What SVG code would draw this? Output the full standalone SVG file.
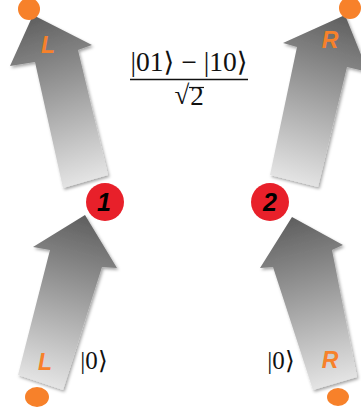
<svg xmlns="http://www.w3.org/2000/svg" width="361" height="415" viewBox="0 0 361 415">
<style>
.arrow{stroke:none;filter:url(#sh)}
.dot{fill:#f7812a}
.lbl{font-family:"Liberation Sans",Arial,sans-serif;font-weight:bold;font-style:italic;font-size:23px;fill:#f7812a;text-anchor:middle}
.node{fill:#e8202a}
.num{font-family:"Liberation Sans",Arial,sans-serif;font-weight:bold;font-style:italic;font-size:25px;fill:#000;text-anchor:middle}
.math{font-family:"Liberation Serif","Times New Roman",serif;font-size:27px;fill:#111;text-anchor:middle}
.ket{font-family:"Liberation Serif","Times New Roman",serif;font-size:25px;fill:#111;text-anchor:middle}
.br{font-family:"DejaVu Serif","DejaVu Sans",serif}
</style>
<defs>
<filter id="sh" x="-20%" y="-20%" width="140%" height="140%">
<feDropShadow dx="1.5" dy="2" stdDeviation="1.8" flood-color="#000" flood-opacity="0.35"/>
</filter>
<linearGradient id="g1" gradientUnits="userSpaceOnUse" x1="33" y1="15" x2="85" y2="182">
<stop offset="0" stop-color="#5e5e5e"/><stop offset="1" stop-color="#e4e4e4"/>
</linearGradient>
<linearGradient id="g2" gradientUnits="userSpaceOnUse" x1="345" y1="15" x2="294" y2="182">
<stop offset="0" stop-color="#5e5e5e"/><stop offset="1" stop-color="#e4e4e4"/>
</linearGradient>
<linearGradient id="g3" gradientUnits="userSpaceOnUse" x1="85" y1="215" x2="40" y2="383">
<stop offset="0" stop-color="#5e5e5e"/><stop offset="1" stop-color="#e4e4e4"/>
</linearGradient>
<linearGradient id="g4" gradientUnits="userSpaceOnUse" x1="292" y1="217" x2="335" y2="384">
<stop offset="0" stop-color="#5e5e5e"/><stop offset="1" stop-color="#e4e4e4"/>
</linearGradient>
</defs>

<g id="arrow-upper-left">
<polygon class="arrow" fill="url(#g1)" points="33,15 92,45 78,50 108,175 63,188 35,62 10,66"/>
<circle class="dot" cx="29" cy="9" r="11"/>
<text class="lbl" x="48" y="53">L</text>
</g>

<g id="arrow-upper-right">
<polygon class="arrow" fill="url(#g2)" points="345,15 368,72 347,67 318,187 270,175 297,47 283,43"/>
<circle class="dot" cx="350" cy="8" r="11"/>
<text class="lbl" x="330" y="48">R</text>
</g>

<g id="arrow-lower-left">
<polygon class="arrow" fill="url(#g3)" points="85,215 117,268 102,267 63,390 18,375 50,250 33,247"/>
<ellipse class="dot" cx="37" cy="397" rx="12" ry="10"/>
<text class="lbl" x="45" y="370">L</text>
<text class="ket" x="94" y="369">|0<tspan class="br">⟩</tspan></text>
</g>

<g id="arrow-lower-right">
<polygon class="arrow" fill="url(#g4)" points="292,217 343,245 332,250 357,377 313,390 273,267 260,268"/>
<ellipse class="dot" cx="338" cy="397" rx="11" ry="9"/>
<text class="lbl" x="330" y="368">R</text>
<text class="ket" x="281" y="369">|0<tspan class="br">⟩</tspan></text>
</g>

<g id="node-1">
<circle class="node" cx="105" cy="202" r="19"/>
<text class="num" x="104" y="211">1</text>
</g>

<g id="node-2">
<circle class="node" cx="270" cy="202" r="19"/>
<text class="num" x="270" y="211">2</text>
</g>

<g id="formula">
<text class="math" x="189" y="71" textLength="117" lengthAdjust="spacingAndGlyphs">|01<tspan class="br">⟩</tspan> − |10<tspan class="br">⟩</tspan></text>
<line x1="130" y1="79.5" x2="248" y2="79.5" stroke="#111" stroke-width="1.3"/>
<text class="math" x="182" y="104">√</text>
<line x1="189" y1="87.5" x2="204" y2="87.5" stroke="#111" stroke-width="1.2"/>
<text class="math" x="197" y="105">2</text>
</g>

<g id="connectors"></g>
</svg>
